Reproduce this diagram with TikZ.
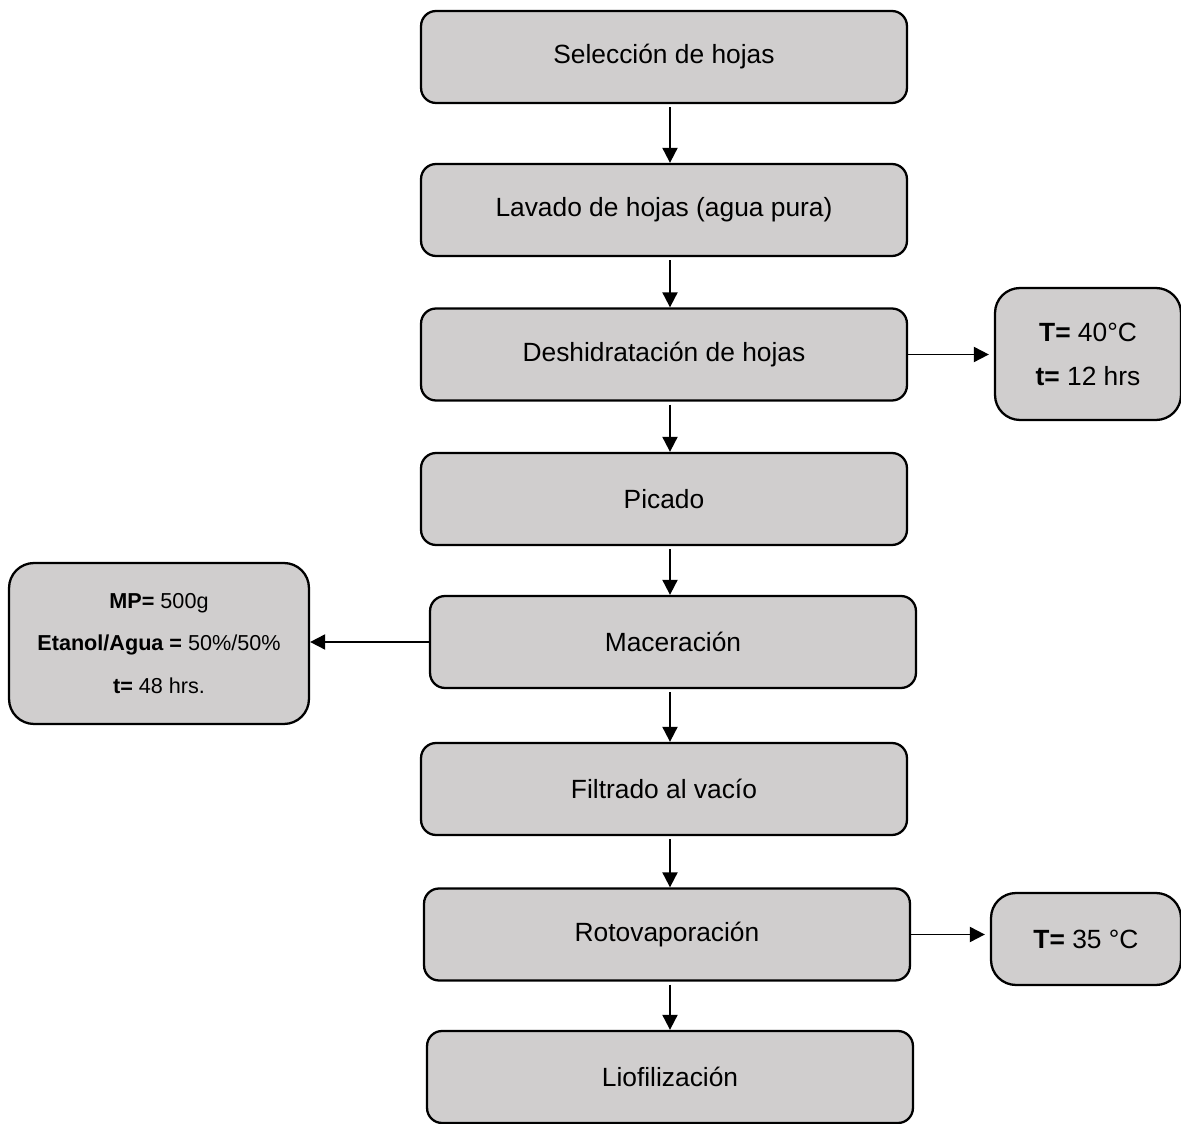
\documentclass[tikz,border=0pt]{standalone}
\usepackage{fontspec}
\setmainfont{Liberation Sans}
\usetikzlibrary{arrows.meta}
\definecolor{grisclaro}{HTML}{D0CECE}
\begin{document}
\begin{tikzpicture}[x=0.02cm,y=-0.02cm,line join=round,>={Triangle[length=0.3cm,width=0.3cm]},
	paso/.style={draw,line width=1.3pt,fill=grisclaro,rounded corners=0.3cm,minimum width=9.72cm,minimum height=1.84cm,font=\fontsize{15}{18}\selectfont},
	cond/.style={draw,line width=1.3pt,fill=grisclaro,rounded corners=0.5cm,align=center},
	flecha/.style={->,line width=1.1pt}]
		\useasboundingbox (0,0) rectangle (1181,1124);
		% pasos del proceso
		\node[paso] (sel) at (664,57) {Selección de hojas};
		\node[paso] (lav) at (664,210) {Lavado de hojas (agua pura)};
		\node[paso] (desh) at (664,354.5) {Deshidratación de hojas};
		\node[paso] (pic) at (664,499) {Picado};
		\node[paso] (mac) at (673,642) {Maceración};
		\node[paso] (fil) at (664,789) {Filtrado al vacío};
		\node[paso] (rot) at (667,934.5) {Rotovaporación};
		\node[paso] (lio) at (670,1077) {Liofilización};
		% condiciones
		\node[cond,font=\fontsize{15}{25}\selectfont,minimum width=3.72cm,minimum height=2.64cm] (temp1) at (1088,354) {\textbf{T=} 40°C\\\textbf{t=} 12 hrs};
		\node[cond,font=\fontsize{12.3}{24}\selectfont,minimum width=6cm,minimum height=3.22cm] (mezcla) at (159,643.5) {\textbf{MP=} 500g\\\textbf{Etanol/Agua =} 50\%/50\%\\\textbf{t=} 48 hrs.};
		\node[cond,font=\fontsize{15}{25}\selectfont,minimum width=3.8cm,minimum height=1.84cm] (temp2) at (1086,939) {\textbf{T=} 35 °C};
		\foreach \a/\b in {sel/lav,lav/desh,desh/pic,pic/mac,mac/fil,fil/rot,rot/lio}
		\draw[flecha,shorten <=0.06cm] (\a.south -| 670,0) -- (\b.north -| 670,0);
		\draw[flecha,shorten >=0.1cm] (desh.east) -- (desh.east -| temp1.west);
		\draw[flecha] (mac.west) -- (mac.west -| mezcla.east);
		\draw[flecha,shorten >=0.1cm] (rot.east) -- (rot.east -| temp2.west);
\end{tikzpicture}
\end{document}
